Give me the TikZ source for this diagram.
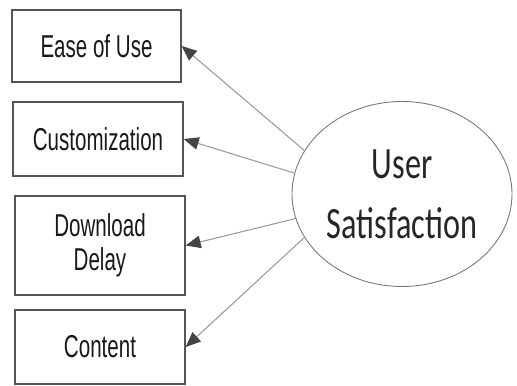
\documentclass[tikz,border=0pt]{standalone}
\usepackage{fontspec}
\usepackage{tikz}
\usetikzlibrary{arrows.meta, shapes.geometric}
\usepackage{xcolor}

\newfontfamily\boxfont{Liberation Sans}[FakeStretch=0.65]
\newfontfamily\ovalfont{Carlito}[FakeStretch=0.72]
\definecolor{boxgray}{HTML}{555555}
\definecolor{linegray}{HTML}{9A9A9A}
\definecolor{tipgray}{HTML}{444444}

\begin{document}
\begin{tikzpicture}[x=0.2mm, y=-0.2mm,
	factor/.style={draw=boxgray, line width=0.8pt, minimum width=3.4cm, inner sep=0pt,
		align=center, text=black!90, font=\boxfont\fontsize{18}{19}\selectfont},
	latent/.style={ellipse, draw=boxgray!80, line width=0.5pt, minimum width=4.4cm,
		minimum height=3.7cm, inner sep=0pt, align=center, text=black!85,
		font=\ovalfont\fontsize{25.5}{34}\selectfont},
	link/.style={draw=linegray, line width=0.6pt, -{Triangle[length=3mm, width=2.5mm, color=tipgray]}}]
	\useasboundingbox (0,0) rectangle (517,386);
	\node [factor, minimum width=3.38cm, minimum height=1.44cm] (ease) at (96.5,46) {Ease of Use};
	\node [factor, minimum height=1.48cm] (custom) at (98,139) {Customization};
	\node [factor, minimum height=1.98cm] (delay) at (100,245.5) {Download\\Delay};
	\node [factor, minimum height=1.48cm] (content) at (100,347) {Content};
	\node [latent] (us) at (402,194) {User\\Satisfaction};
	\draw [link] (us.156.6) -- (ease.east);
	\draw [link] (us.169) -- (custom.east);
	\draw [link] (us.193.4) -- (delay.east);
	\draw [link] (us.204.9) -- (content.east);
\end{tikzpicture}
\end{document}
